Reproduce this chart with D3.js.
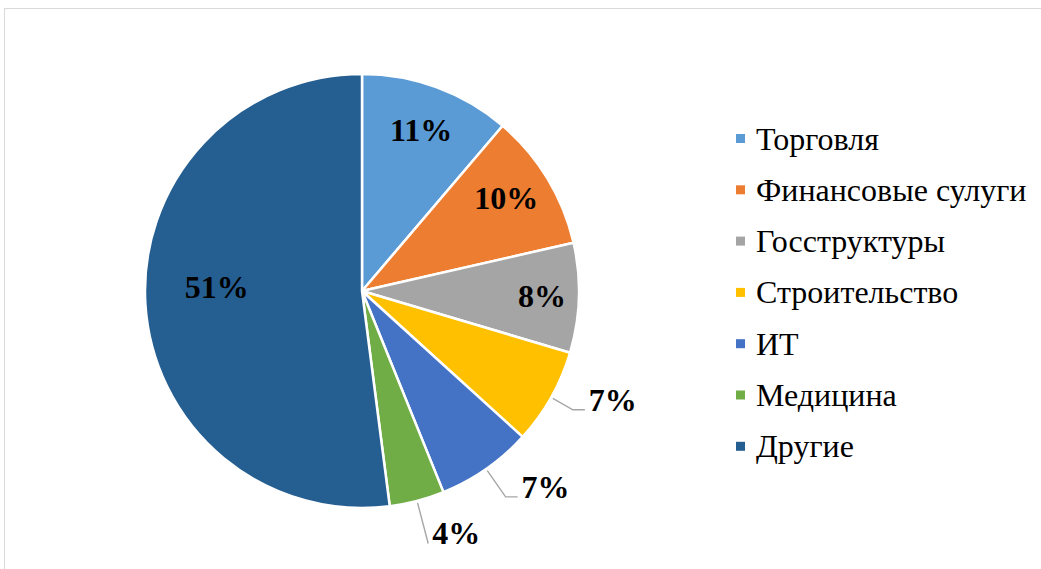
<!DOCTYPE html>
<html>
<head>
<meta charset="utf-8">
<script src="https://cdn.jsdelivr.net/npm/d3@7"></script>
</head>
<body style="margin:0">
<script>
// du lieu - data
var categories = ["Торговля", "Финансовые сулуги", "Госструктуры", "Строительство", "ИТ", "Медицина", "Другие"];
var values = [11, 10, 8, 7, 7, 4, 51];
var colors = ["#5B9BD5", "#ED7D31", "#A5A5A5", "#FFC000", "#4472C4", "#70AD47", "#255E91"];

var width = 1041,
    height = 569;

var svg = d3.select("body")
    .append("svg")
    .attr("width", width)
    .attr("height", height)
    .attr("font-family", "Liberation Serif");

// khung vien - chart frame
svg.append("rect")
    .attr("x", 4.5).attr("y", 8.5)
    .attr("width", 1100).attr("height", 700)
    .style("fill", "none")
    .style("stroke", "#D9D9D9")
    .style("stroke-width", 1);

var cx = 362, cy = 291, r = 217;

var pie = d3.pie().sort(null).value(function(d) { return d; });
var arcs = pie(values);

var arc = d3.arc().innerRadius(0).outerRadius(r);

var g = svg.append("g")
    .attr("class", "pie")
    .attr("transform", "translate(" + cx + "," + cy + ")");

g.selectAll("path")
    .data(arcs)
    .enter().append("path")
    .attr("d", arc)
    .style("fill", function(d, i) { return colors[i]; })
    .style("stroke", "white")
    .style("stroke-width", 2.5)
    .style("stroke-linejoin", "round");

// vi tri nhan - label layout (inside: radius factor + angle shift, outside: elbow extension + tail)
var labelLayout = [
    { inside: true, k: 0.79, da: 0 },
    { inside: true, k: 0.79, da: -1.5 },
    { inside: true, k: 0.83, da: 0 },
    { inside: false, ext: 25, tail: 12 },
    { inside: false, ext: 34, tail: 12 },
    { inside: false, ext: 44, tail: 0 },
    { inside: true, k: 0.67, da: 5 }
];

function polar(a, rad) {
    return [Math.sin(a) * rad, -Math.cos(a) * rad];
}

arcs.forEach(function(d, i) {
    var mid = (d.startAngle + d.endAngle) / 2;
    var lay = labelLayout[i];
    var txt = d.value + "%";
    if (lay.inside) {
        var p = polar(mid + lay.da * Math.PI / 180, r * lay.k);
        g.append("text")
            .attr("x", p[0]).attr("y", p[1])
            .attr("text-anchor", "middle")
            .attr("dy", "0.33em")
            .attr("font-family", "Liberation Serif")
            .attr("font-weight", "bold")
            .attr("font-size", 32)
            .attr("fill", "#000")
            .text(txt);
    } else {
        var p0 = polar(mid, r + 2),
            p1 = polar(mid, r + lay.ext),
            p2 = [p1[0] + lay.tail, p1[1]];
        g.append("polyline")
            .attr("points", [p0, p1, p2].map(function(p) { return p.join(","); }).join(" "))
            .style("fill", "none")
            .style("stroke", "#A6A6A6")
            .style("stroke-width", 1.4);
        g.append("text")
            .attr("x", p2[0] + 4).attr("y", p2[1] + 1)
            .attr("text-anchor", "start")
            .attr("font-family", "Liberation Serif")
            .attr("font-weight", "bold")
            .attr("font-size", 32)
            .attr("fill", "#000")
            .text(txt);
    }
});

// chu thich - legend
var legend = svg.append("g")
    .attr("class", "legend")
    .attr("transform", "translate(736,139)");

var item = legend.selectAll("g")
    .data(categories)
    .enter().append("g")
    .attr("transform", function(d, i) { return "translate(0," + (i * 51.3) + ")"; });

item.append("rect")
    .attr("x", 0).attr("y", -5)
    .attr("width", 9).attr("height", 9)
    .style("fill", function(d, i) { return colors[i]; });

item.append("text")
    .attr("x", 20).attr("y", 0)
    .attr("dy", "0.33em")
    .attr("font-family", "Liberation Serif")
    .attr("font-size", 32)
    .attr("fill", "#000")
    .text(function(d) { return d; });
</script>
</body>
</html>
